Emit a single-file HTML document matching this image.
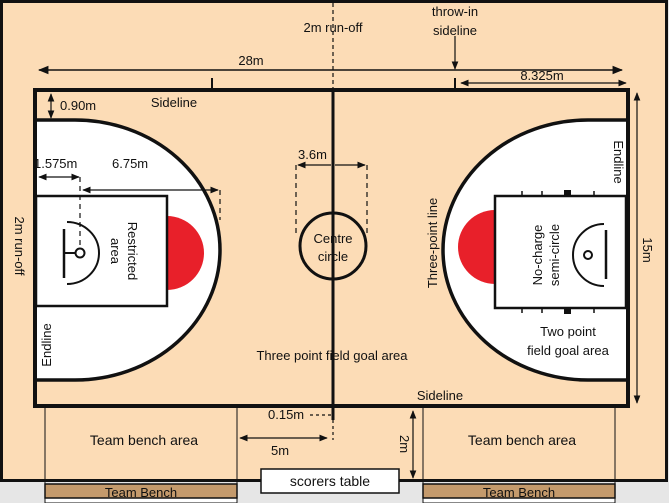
<!DOCTYPE html>
<html><head><style>
html,body{margin:0;padding:0;background:#e6e6e6}
svg{display:block}
text{font-family:"Liberation Sans",sans-serif;fill:#111}
</style></head><body>
<svg width="669" height="503" viewBox="0 0 669 503" xmlns="http://www.w3.org/2000/svg">
<defs>
<marker id="a" viewBox="0 0 10 10" refX="9" refY="5" markerWidth="7" markerHeight="7" orient="auto-start-reverse"><path d="M0,1 L10,5 L0,9 z" fill="#111"/></marker>
</defs>
<rect x="0" y="0" width="669" height="503" fill="#e6e6e6"/>
<rect x="1.5" y="1.5" width="665" height="479" fill="#fcdcb6" stroke="#111" stroke-width="3"/>
<line x1="45" y1="406" x2="45" y2="503" stroke="#111" stroke-width="1"/>
<line x1="237" y1="406" x2="237" y2="503" stroke="#111" stroke-width="1"/>
<line x1="423" y1="406" x2="423" y2="503" stroke="#111" stroke-width="1"/>
<line x1="615" y1="406" x2="615" y2="503" stroke="#111" stroke-width="1"/>
<rect x="45" y="498" width="192" height="5" fill="#fff" stroke="#111" stroke-width="1"/>
<rect x="423" y="498" width="192" height="5" fill="#fff" stroke="#111" stroke-width="1"/>
<rect x="45" y="484" width="192" height="14" fill="#c49a6c" stroke="#111" stroke-width="1.5"/>
<rect x="423" y="484" width="192" height="14" fill="#c49a6c" stroke="#111" stroke-width="1.5"/>
<text x="141" y="497" font-size="13" text-anchor="middle">Team Bench</text>
<text x="519" y="497" font-size="13" text-anchor="middle">Team Bench</text>
<rect x="261" y="469" width="138" height="24" fill="#fff" stroke="#111" stroke-width="1.5"/>
<text x="330" y="486" font-size="14" text-anchor="middle">scorers table</text>
<text x="144" y="445" font-size="14" text-anchor="middle">Team bench area</text>
<text x="522" y="445" font-size="14" text-anchor="middle">Team bench area</text>
<rect x="35" y="90" width="593" height="316" fill="#fcdcb6" stroke="#111" stroke-width="4"/>
<path d="M37,120 L75,120 A145,130 0 0 1 75,380 L37,380 Z" fill="#fff"/>
<path d="M37,120 L75,120 A145,130 0 0 1 75,380 L37,380" fill="none" stroke="#111" stroke-width="3.5"/>
<path d="M167,216 A37,37 0 0 1 167,290 Z" fill="#e8202a"/>
<rect x="36" y="196" width="131" height="110" fill="#fff" stroke="#111" stroke-width="2.5"/>
<line x1="64" y1="229" x2="64" y2="278" stroke="#111" stroke-width="2.5"/>
<line x1="64" y1="253" x2="76" y2="253" stroke="#111" stroke-width="2"/>
<circle cx="80" cy="253" r="4.5" fill="#fff" stroke="#111" stroke-width="2"/>
<path d="M67,222 A32,31 0 0 1 67,284" fill="none" stroke="#111" stroke-width="2"/>
<path d="M626,120 L588,120 A145,130 0 0 0 588,380 L626,380 Z" fill="#fff"/>
<path d="M626,120 L588,120 A145,130 0 0 0 588,380 L626,380" fill="none" stroke="#111" stroke-width="3.5"/>
<path d="M495,210 A37,37 0 0 0 495,284 Z" fill="#e8202a"/>
<rect x="495" y="196" width="131" height="112" fill="#fff" stroke="#111" stroke-width="2.5"/>
<g stroke="#111" stroke-width="1.5">
<line x1="522" y1="191" x2="522" y2="196"/><line x1="542" y1="191" x2="542" y2="196"/><line x1="594" y1="191" x2="594" y2="196"/>
<line x1="522" y1="308" x2="522" y2="313"/><line x1="542" y1="308" x2="542" y2="313"/><line x1="594" y1="308" x2="594" y2="313"/>
</g>
<rect x="564" y="190" width="7" height="6" fill="#111"/><rect x="564" y="308" width="7" height="6" fill="#111"/>
<line x1="606" y1="230" x2="606" y2="279" stroke="#111" stroke-width="2.5"/>
<circle cx="588" cy="255" r="4" fill="#fff" stroke="#111" stroke-width="2"/>
<path d="M604,224 A31,31 0 0 0 604,286" fill="none" stroke="#111" stroke-width="2"/>
<line x1="333" y1="88" x2="333" y2="420" stroke="#111" stroke-width="3"/>
<circle cx="333" cy="246" r="33" fill="none" stroke="#111" stroke-width="3"/>
<line x1="296" y1="165" x2="296" y2="235" stroke="#111" stroke-width="1.2" stroke-dasharray="5,4"/>
<line x1="367" y1="165" x2="367" y2="235" stroke="#111" stroke-width="1.2" stroke-dasharray="5,4"/>
<line x1="298" y1="165" x2="331" y2="165" stroke="#111" stroke-width="1.2" marker-start="url(#a)"/>
<line x1="335" y1="165" x2="365" y2="165" stroke="#111" stroke-width="1.2" marker-end="url(#a)"/>
<text x="298" y="159" font-size="13">3.6m</text>
<text x="333" y="243" font-size="13" text-anchor="middle">Centre</text>
<text x="333" y="261" font-size="13" text-anchor="middle">circle</text>
<line x1="333" y1="3" x2="333" y2="88" stroke="#111" stroke-width="1.2" stroke-dasharray="4,3"/>
<text x="333" y="32" font-size="13" text-anchor="middle">2m run-off</text>
<text x="455" y="16" font-size="13" text-anchor="middle">throw-in</text>
<text x="455" y="35" font-size="13" text-anchor="middle">sideline</text>
<line x1="455" y1="36" x2="455" y2="69" stroke="#111" stroke-width="1.2" marker-end="url(#a)"/>
<line x1="39" y1="70" x2="622" y2="70" stroke="#111" stroke-width="1.5" marker-start="url(#a)" marker-end="url(#a)"/>
<text x="251" y="65" font-size="13" text-anchor="middle">28m</text>
<line x1="212" y1="78" x2="212" y2="90" stroke="#111" stroke-width="2"/>
<line x1="455" y1="78" x2="455" y2="90" stroke="#111" stroke-width="2"/>
<line x1="461" y1="83" x2="626" y2="83" stroke="#111" stroke-width="1.2" marker-start="url(#a)" marker-end="url(#a)"/>
<text x="542" y="80" font-size="13" text-anchor="middle">8.325m</text>
<line x1="637" y1="93" x2="637" y2="403" stroke="#111" stroke-width="1.2" marker-start="url(#a)" marker-end="url(#a)"/>
<text transform="translate(643,250) rotate(90)" font-size="13" text-anchor="middle">15m</text>
<line x1="51" y1="94" x2="51" y2="118" stroke="#111" stroke-width="1.2" marker-start="url(#a)" marker-end="url(#a)"/>
<text x="60" y="110" font-size="13">0.90m</text>
<text x="174" y="107" font-size="13" text-anchor="middle">Sideline</text>
<line x1="39" y1="177" x2="79" y2="177" stroke="#111" stroke-width="1.2" marker-start="url(#a)" marker-end="url(#a)"/>
<line x1="80" y1="177" x2="80" y2="249" stroke="#111" stroke-width="1.2" stroke-dasharray="5,4"/>
<text x="34" y="168" font-size="13">1.575m</text>
<line x1="83" y1="190" x2="218" y2="190" stroke="#111" stroke-width="1.2" marker-start="url(#a)" marker-end="url(#a)"/>
<line x1="220" y1="190" x2="220" y2="220" stroke="#111" stroke-width="1.2" stroke-dasharray="5,4"/>
<text x="112" y="168" font-size="13">6.75m</text>
<text transform="translate(128,251) rotate(90)" font-size="13" text-anchor="middle">Restricted</text>
<text transform="translate(111,251) rotate(90)" font-size="13" text-anchor="middle">area</text>
<text transform="translate(15,246) rotate(90)" font-size="13" text-anchor="middle">2m run-off</text>
<text transform="translate(51,345) rotate(-90)" font-size="13" text-anchor="middle">Endline</text>
<text transform="translate(437,243) rotate(-90)" font-size="13" text-anchor="middle">Three-point line</text>
<text transform="translate(614,162) rotate(90)" font-size="13" text-anchor="middle">Endline</text>
<text transform="translate(542,255) rotate(-90)" font-size="13" text-anchor="middle">No-charge</text>
<text transform="translate(559,255) rotate(-90)" font-size="13" text-anchor="middle">semi-circle</text>
<text x="568" y="336" font-size="13" text-anchor="middle">Two point</text>
<text x="568" y="355" font-size="13" text-anchor="middle">field goal area</text>
<text x="332" y="360" font-size="13" text-anchor="middle">Three point field goal area</text>
<text x="440" y="400" font-size="13" text-anchor="middle">Sideline</text>
<line x1="333" y1="420" x2="333" y2="440" stroke="#111" stroke-width="1.2" stroke-dasharray="3,3"/>
<line x1="310" y1="415" x2="331" y2="415" stroke="#111" stroke-width="1.2" stroke-dasharray="3,3"/>
<text x="268" y="419" font-size="13">0.15m</text>
<line x1="240" y1="438" x2="327" y2="438" stroke="#111" stroke-width="1.2" marker-start="url(#a)" marker-end="url(#a)"/>
<text x="280" y="455" font-size="13" text-anchor="middle">5m</text>
<line x1="413" y1="411" x2="413" y2="478" stroke="#111" stroke-width="1.2" marker-start="url(#a)" marker-end="url(#a)"/>
<text transform="translate(400,444) rotate(90)" font-size="13" text-anchor="middle">2m</text>
</svg>
</body></html>
